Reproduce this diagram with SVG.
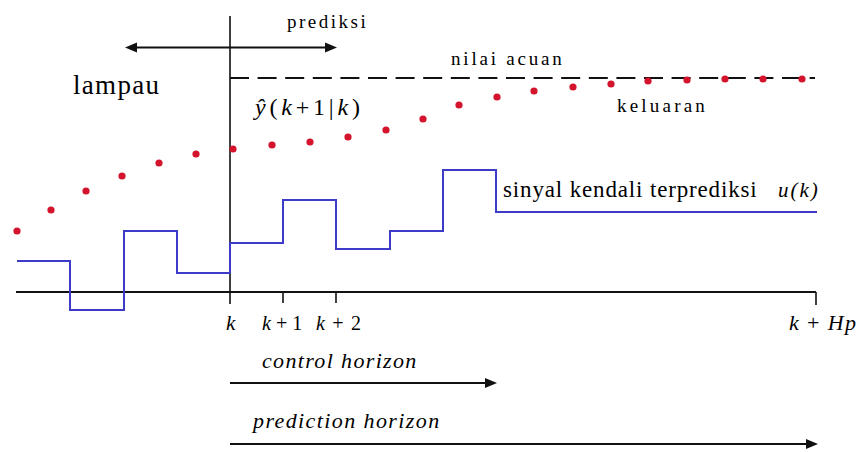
<svg xmlns="http://www.w3.org/2000/svg" width="858" height="452" viewBox="0 0 858 452">
<rect width="858" height="452" fill="#fff"/>
<text x="287" y="28" font-size="19" font-family="Liberation Serif" letter-spacing="2.5">prediksi</text>
<text x="73" y="94" font-size="27" font-family="Liberation Serif" letter-spacing="1.3">lampau</text>
<text x="451" y="65" font-size="19" font-family="Liberation Serif" letter-spacing="2.8">nilai acuan</text>
<text x="617" y="112" font-size="19" font-family="Liberation Serif" letter-spacing="3.2">keluaran</text>
<text x="255" y="115" font-size="24" font-family="Liberation Serif" letter-spacing="3.8"><tspan font-style="italic">&#375;</tspan>(<tspan font-style="italic">k</tspan>+1|<tspan font-style="italic">k</tspan>)</text>
<text x="503" y="197" font-size="23" font-family="Liberation Serif" letter-spacing="0.85">sinyal kendali terprediksi</text>
<text x="778" y="197" font-size="21" font-family="Liberation Serif" font-style="italic" letter-spacing="2">u(k)</text>
<text x="226" y="330" font-size="21" font-family="Liberation Serif" font-style="italic">k</text>
<text x="262" y="330" font-size="20" font-family="Liberation Serif"><tspan font-style="italic">k</tspan> + 1</text>
<text x="316" y="330" font-size="20" font-family="Liberation Serif" letter-spacing="1.2"><tspan font-style="italic">k</tspan> + 2</text>
<text x="789" y="330" font-size="22" font-family="Liberation Serif" letter-spacing="1.4"><tspan font-style="italic">k</tspan> + <tspan font-style="italic">Hp</tspan></text>
<text x="262" y="368" font-size="22" font-family="Liberation Serif" font-style="italic" letter-spacing="1.35">control horizon</text>
<text x="253" y="428" font-size="22" font-family="Liberation Serif" font-style="italic" letter-spacing="1.4">prediction horizon</text>

<g id="axes" stroke="#111" fill="none" stroke-width="1.6">
<line x1="16" y1="292" x2="816" y2="292" stroke-width="2"/>
<line x1="230" y1="16" x2="230" y2="304"/>
<line x1="283" y1="292" x2="283" y2="303"/>
<line x1="336" y1="292" x2="336" y2="303"/>
<line x1="816" y1="292" x2="816" y2="305"/>
</g>

<g id="reference">
<line x1="230" y1="78" x2="815" y2="78" stroke="#111" stroke-width="2" stroke-dasharray="19 8.6"/>
</g>

<g id="control-signal">
<polyline points="17,261 70,261 70,310 124,310 124,231 177,231 177,273 230,273 230,243 283,243 283,200 336,200 336,249 390,249 390,231 443,231 443,170 496,170 496,212 817,212" fill="none" stroke="#3c3cc8" stroke-width="2"/>
</g>

<g id="output" fill="#d4142c">
<circle cx="17" cy="231" r="3.6"/>
<circle cx="51" cy="210" r="3.6"/>
<circle cx="86" cy="191" r="3.6"/>
<circle cx="122" cy="176" r="3.6"/>
<circle cx="159" cy="163" r="3.6"/>
<circle cx="196" cy="154" r="3.6"/>
<circle cx="233" cy="149" r="3.6"/>
<circle cx="272" cy="145" r="3.6"/>
<circle cx="310" cy="142" r="3.6"/>
<circle cx="348" cy="137" r="3.6"/>
<circle cx="386" cy="130" r="3.6"/>
<circle cx="423" cy="119" r="3.6"/>
<circle cx="459" cy="105" r="3.6"/>
<circle cx="497" cy="97" r="3.6"/>
<circle cx="534" cy="91" r="3.6"/>
<circle cx="573" cy="87" r="3.6"/>
<circle cx="611" cy="84" r="3.6"/>
<circle cx="648" cy="81" r="3.6"/>
<circle cx="687" cy="80" r="3.6"/>
<circle cx="725" cy="79" r="3.6"/>
<circle cx="763" cy="79" r="3.6"/>
<circle cx="802" cy="79" r="3.6"/>
</g>

<g id="connectors" stroke="#111" stroke-width="2" fill="#111">
<line x1="135" y1="47.5" x2="327" y2="47.5"/>
<polygon points="125,47.5 137,42.5 137,52.5" stroke="none"/>
<polygon points="337,47.5 325,42.5 325,52.5" stroke="none"/>
<line x1="230" y1="383" x2="487" y2="383"/>
<polygon points="497,383 485,378 485,388" stroke="none"/>
<line x1="230" y1="444" x2="808" y2="444"/>
<polygon points="818,444 806,439 806,449" stroke="none"/>
</g>
</svg>
